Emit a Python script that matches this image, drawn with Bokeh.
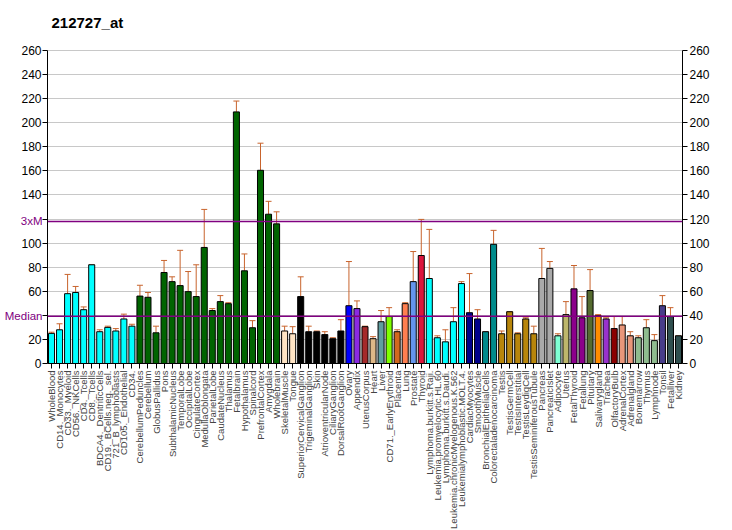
from bokeh.plotting import figure
from bokeh.layouts import row
from bokeh.models import (ColumnDataSource, Range1d, FactorRange, LinearAxis, Span,
                          Whisker, TeeHead, FixedTicker)
from bokeh.core.properties import value
from bokeh.embed import file_html
from bokeh.resources import INLINE

title = "212727_at"

tissues = [
    "WholeBlood", "CD14._Monocytes", "CD33._Myeloid", "CD56._NKCells", "CD4._Tcells",
    "CD8._Tcells", "BDCA4._DentriticCells", "CD19._BCells.neg._sel.", "721_B_lymphoblasts",
    "CD105._Endothelial", "CD34.", "CerebellumPeduncles", "Cerebellum", "GlobusPallidus",
    "Pons", "SubthalamicNucleus", "TemporalLobe", "OccipitalLobe", "CingulateCortex",
    "MedullaOblongata", "ParietalLobe", "CaudateNucleus", "Thalamus", "Fetalbrain",
    "Hypothalamus", "Spinalcord", "PrefrontalCortex", "Amygdala", "Wholebrain",
    "SkeletalMuscle", "Tongue", "SuperiorCervicalGanglion", "TrigeminalGanglion", "Skin",
    "AtrioventricularNode", "CiliaryGanglion", "DorsalRootGanglion", "Ovary", "Appendix",
    "UterusCorpus", "Heart", "Liver", "CD71._EarlyErythroid", "Placenta", "Lung",
    "Prostate", "Thyroid", "Lymphoma.burkitt.s.Raji.", "Leukemia.promyelocytic.HL.60",
    "Lymphoma.burkitt.s.Daudi.", "Leukemia.chronicMyelogenous.K.562",
    "Leukemialymphoblastic.MOLT.4.", "CardiacMyocytes", "SmoothMuscle",
    "BronchialEpithelialCells", "Colorectaladenocarcinoma", "Testis", "TestisGermCell",
    "TestisInterstitial", "TestisLeydigCell", "TestisSeminiferousTubule", "Pancreas",
    "PancreaticIslet", "Adipocyte", "Uterus", "FetalThyroid", "Fetallung", "Pituitary",
    "Salivarygland", "Trachea", "OlfactoryBulb", "AdrenalCortex", "Adrenalgland",
    "Bonemarrow", "Thymus", "Lymphnode", "Tonsil", "Fetalliver", "Kidney",
]

values = [
    25, 28, 58, 59, 44.7, 82, 26.4, 30, 27, 37, 31,
    56, 55, 25.5, 75.6, 68, 64.7, 59.7, 55.6, 96.4, 44, 51.4, 49.7, 209, 77, 29.7,
    160.5, 124, 116,
    27, 24.7, 55.6, 26.4, 26.4, 24, 20.6, 27, 48, 45.6, 30.6, 20.6, 34.7, 39, 26.4,
    49.7, 68, 89.7, 70.6, 21.4, 18, 34.7, 66.4, 42.2, 37, 26.4, 99,
    24.7, 43, 24.7, 37, 24.7, 70.6, 79, 23, 40.6, 62, 38, 60.6, 39.7, 37, 29, 32,
    23, 21.4, 29.7, 19, 48, 39, 23,
]

error_top = [
    26, 33, 74, 64, 47, 82, 28, 31, 29, 41, 32.6,
    65, 59, 31, 85.6, 72, 94, 76.4, 82, 128, 45.6, 56.4, 50.5, 218, 91, 35.6,
    183, 134.7, 126,
    31, 30.6, 72, 31, 27, 26.4, 21.4, 36.4, 84.7, 52, 31, 22.3, 44, 46.4, 28,
    50.5, 93, 119.7, 111.4, 23, 28, 46.4, 68, 74.7, 44.7, 26.4, 110.6,
    27, 43, 25.5, 38, 31, 95.6, 84.7, 24.7, 51.4, 81.4, 55.6, 78, 40.6, 38, 39, 39,
    26.4, 23, 36.4, 24, 56.4, 46.4, 23,
]

bar_colors = (
    ["#00FFFF"] * 11 + ["#006400"] * 18 + ["#FFE4C4"] * 2 + ["#000000"] * 6 +
    ["#0000FF", "#8A2BE2", "#A52A2A", "#DEB887", "#5F9EA0", "#7FFF00", "#D2691E",
     "#FF7F50", "#6495ED", "#DC143C"] +
    ["#00FFFF"] * 5 + ["#00008B"] * 2 + ["#008B8B"] * 2 + ["#B8860B"] * 5 +
    ["#A9A9A9"] * 2 + ["#7FFFD4", "#BDB76B", "#8B008B", "#8B008B", "#556B2F",
                       "#FF8C00", "#9932CC", "#8B0000", "#E9967A", "#E9967A"] +
    ["#8FBC8F"] * 3 + ["#483D8B"] + ["#2F4F4F"] * 2
)

median_value = 39.3
three_x_median = 118

y_ticks = list(range(0, 261, 20))
y_max = 260

FONT = "Liberation Sans"

# vertical layout: value axis 0..260 spans 313 px; the frame extends to the page top
FRAME_H = 363
AXIS_PX = 313
y_top = y_max * FRAME_H / AXIS_PX
per_px = y_top / FRAME_H
yr = Range1d(0, y_top)

src = ColumnDataSource(dict(tissue=tissues, value=values, err=error_top, color=bar_colors))

p = figure(
    x_range=FactorRange(factors=tissues, range_padding=0),
    y_range=yr,
    frame_width=635, frame_height=FRAME_H,
    min_border_left=0, min_border_right=49, min_border_top=0, min_border_bottom=150,
    output_backend="svg", toolbar_location=None,
)
p.background_fill_color = "white"
p.border_fill_color = "white"
p.outline_line_color = None

p.xgrid.grid_line_color = None
p.ygrid.grid_line_color = "#C8C8C8"
p.ygrid.grid_line_width = 1
p.ygrid.ticker = FixedTicker(ticks=y_ticks)

p.vbar(x="tissue", top="value", width=0.75, source=src, fill_color="color",
       line_color="black", line_width=1)

w = Whisker(base="tissue", upper="err", lower="value", source=src,
            line_color="#C8642D", line_width=1,
            upper_head=TeeHead(size=6, line_color="#C8642D", line_width=1),
            lower_head=None)
p.add_layout(w)

for v in (median_value, three_x_median):
    p.add_layout(Span(location=v, dimension="width", line_color="#800080",
                      line_width=1.5, level="overlay"))

# title drawn inside the (extended) frame, above the value axis
p.text(x=[0], y=[y_max + 23], text=[title], x_offset=4, text_align="left",
       text_baseline="middle", text_font=value(FONT), text_font_size="15px",
       text_font_style="bold", text_color="black")

# left axis: line + ticks only (labels drawn in the narrow label panel)
yl = p.yaxis[0]
yl.ticker = FixedTicker(ticks=y_ticks)
yl.major_label_overrides = {t: "" for t in y_ticks}
yl.major_label_standoff = 0
yl.major_label_text_font_size = "1px"
right = LinearAxis(ticker=FixedTicker(ticks=y_ticks))
p.add_layout(right, "right")
for ax in (yl, right):
    ax.bounds = (0, y_max)
    ax.axis_line_color = "black"
    ax.axis_line_width = 1
    ax.major_tick_line_color = "black"
    ax.major_tick_in = 0
    ax.major_tick_out = 5
    ax.minor_tick_line_color = None
right.major_label_text_font = FONT
right.major_label_text_font_size = "12px"
right.major_label_text_color = "black"
right.major_label_standoff = 2

xa = p.xaxis[0]
xa.major_label_orientation = 1.5708
xa.major_label_text_font = FONT
xa.major_label_text_font_size = "9.5px"
xa.major_label_standoff = 2
xa.major_tick_in = 0
xa.major_tick_out = 5
xa.axis_line_color = "black"
xa.major_tick_line_color = "black"

# narrow panel on the left carrying the left tick labels and the Median / 3xM marks
LAB_W = 42
EXTRA_PX = 12
lab = figure(
    x_range=Range1d(0, LAB_W), y_range=Range1d(-EXTRA_PX * per_px, y_top),
    frame_width=LAB_W, frame_height=FRAME_H + EXTRA_PX,
    min_border_left=0, min_border_right=0, min_border_top=0, min_border_bottom=0,
    output_backend="svg", toolbar_location=None,
)
lab.axis.visible = False
lab.grid.visible = False
lab.outline_line_color = None
lab.background_fill_color = "white"
lab.border_fill_color = "white"

left_ticks = [t for t in y_ticks if t not in (40, 120)]
tick_src = ColumnDataSource(dict(y=left_ticks, label=[str(t) for t in left_ticks]))
lab.text(x=LAB_W - 1, y="y", text="label", source=tick_src, text_align="right",
         text_baseline="middle", text_font=value(FONT), text_font_size="12px",
         text_color="black")
ref_src = ColumnDataSource(dict(y=[median_value, three_x_median], label=["Median", "3xM"]))
lab.text(x=LAB_W, y="y", text="label", source=ref_src, text_align="right",
         text_baseline="middle", text_font=value(FONT), text_font_size="11.5px",
         text_color="#800080")

layout = row(lab, p, spacing=0)
open("out.html", "w").write(file_html(layout, INLINE))
